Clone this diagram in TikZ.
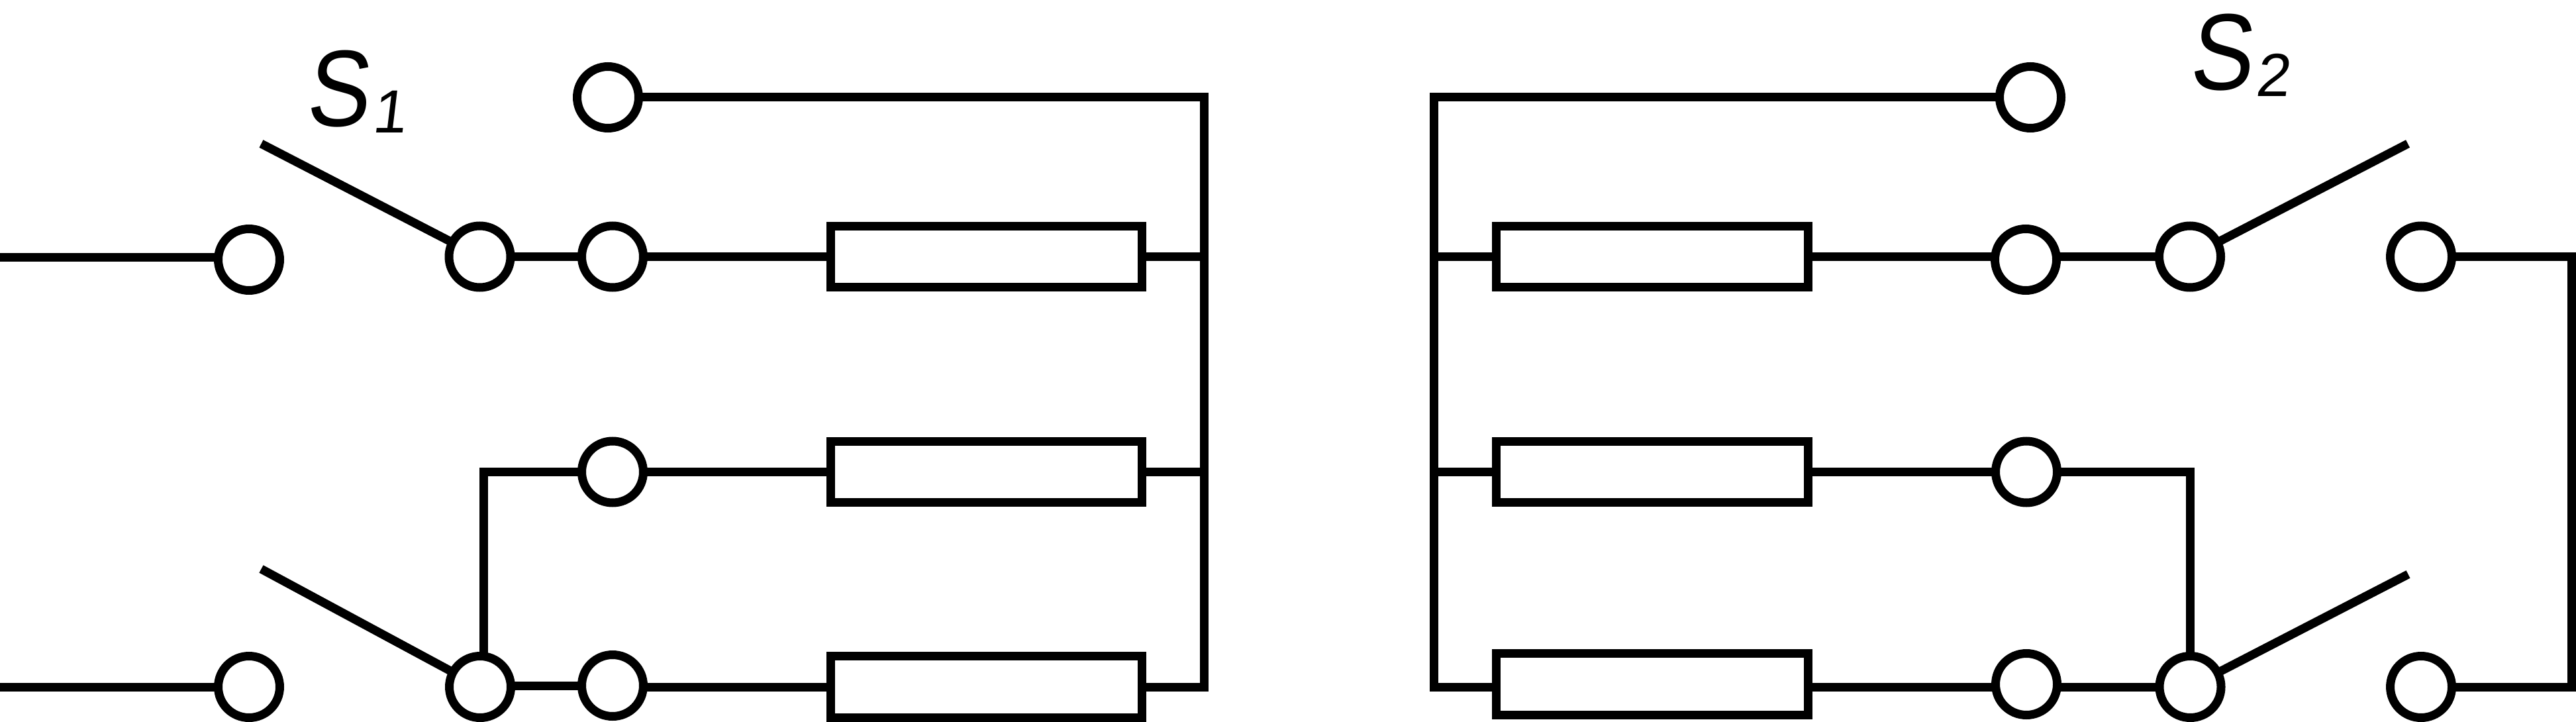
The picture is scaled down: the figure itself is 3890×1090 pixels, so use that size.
\documentclass[tikz,border=0pt]{standalone}
\usepackage{fontspec}
\setmainfont{Liberation Sans}
\newfontfamily\capslant[FakeSlant=0.1,FakeStretch=0.87]{Liberation Sans}
\newfontfamily\subslant[FakeSlant=0.12]{Liberation Sans}
\begin{document}
\begin{tikzpicture}[x=0.5pt,y=-0.5pt,line width=6.5pt,
  term/.style={circle,draw=black,line width=6.5pt,minimum size=46.5pt,inner sep=0pt,outer sep=0pt},
  res/.style={rectangle,draw=black,line width=6.5pt,minimum width=#1,minimum height=46.25pt,inner sep=0pt,outer sep=0pt},
  wire/.style={draw=black,line width=6.5pt,line join=miter,line cap=butt},
  lab/.style={anchor=base west,inner sep=0pt,outer sep=0pt,font=\fontsize{82pt}{86pt}\capslant}]
\fill[white] (0,0) rectangle (3890,1090);
\useasboundingbox (0,0) rectangle (3890,1090);
% left side terminals
\node[term] (inA) at (376,392) {};
\node[term] (inB) at (376,1037) {};
\node[term] (pivA) at (724.5,387.5) {};
\node[term] (pivB) at (725,1037) {};
\node[term] (topL) at (918,147) {};
\node[term] (tapA) at (925,387.5) {};
\node[term] (tapM) at (925,712.5) {};
\node[term] (tapB) at (925,1035) {};
% left resistors
\node[res=235pt] (rA) at (1489.5,387.5) {};
\node[res=235pt] (rM) at (1489.5,712.5) {};
\node[res=235pt] (rB) at (1489.5,1037) {};
% right resistors
\node[res=235.5pt] (sA) at (2495,387.5) {};
\node[res=235.5pt] (sM) at (2495,712.5) {};
\node[res=235.5pt] (sB) at (2495,1033) {};
% right side terminals
\node[term] (topR) at (3066,147) {};
\node[term] (uA) at (3059,392) {};
\node[term] (uM) at (3060,712.5) {};
\node[term] (uB) at (3060,1033) {};
\node[term] (qivA) at (3307,387.5) {};
\node[term] (qivB) at (3307.5,1037) {};
\node[term] (outA) at (3656,387.5) {};
\node[term] (outB) at (3656,1037) {};
% free ends
\coordinate (feedA) at (0,388.5);
\coordinate (feedB) at (0,1037.5);
\coordinate (armA) at (394.5,217);
\coordinate (armB) at (394.5,859);
\coordinate (armC) at (3636,217);
\coordinate (armD) at (3636.5,867);
\coordinate (busL) at (1818.5,1037);
\coordinate (busR) at (2165.5,1037.5);
\coordinate (busE) at (3883.5,1037);
\coordinate (jog) at (730,990.5);
% labels
\node[lab] (sOne) at (461,191) {S\kern 2.5pt\raisebox{-5pt}{\fontsize{46pt}{50pt}\subslant 1}};
\node[lab] (sTwo) at (3305,136) {S\kern 2.5pt\raisebox{-5pt}{\fontsize{46pt}{50pt}\subslant 2}};
% feed lines and switch blades
\draw[wire] (feedA) -- (feedA -| inA.west);
\draw[wire] (feedB) -- (feedB -| inB.west);
\draw[wire] (armA) -- (pivA);
\draw[wire] (armB) -- (pivB);
\draw[wire] (armC) -- (qivA);
\draw[wire] (armD) -- (qivB);
% left connectors
\draw[wire] (pivA.east) -- (tapA.west);
\draw[wire] (tapA.east) -- (rA.west);
\draw[wire] (tapM.east) -- (rM.west);
\draw[wire] (tapM.west) -| (jog);
\draw[wire] (tapB.west) -- (tapB.west -| pivB.east);
\draw[wire] (rB.west -| tapB.east) -- (rB.west);
\draw[wire] (topL.east) -| (busL) -- (rB.east);
\draw[wire] (rA.east) -- (rA.east -| busL);
\draw[wire] (rM.east) -- (rM.east -| busL);
% right connectors
\draw[wire] (topR.west) -| (busR) -- (busR -| sB.west);
\draw[wire] (sA.west) -- (sA.west -| busR);
\draw[wire] (sM.west) -- (sM.west -| busR);
\draw[wire] (sA.east) -- (sA.east -| uA.west);
\draw[wire] (sA.east -| uA.east) -- (qivA.west);
\draw[wire] (sM.east) -- (uM.west);
\draw[wire] (uM.east) -| (qivB.north);
\draw[wire] (qivB.west -| sB.east) -- (qivB.west -| uB.west);
\draw[wire] (qivB.west -| uB.east) -- (qivB.west);
\draw[wire] (outA.east) -| (busE) -- (outB.east);
\end{tikzpicture}
\end{document}
